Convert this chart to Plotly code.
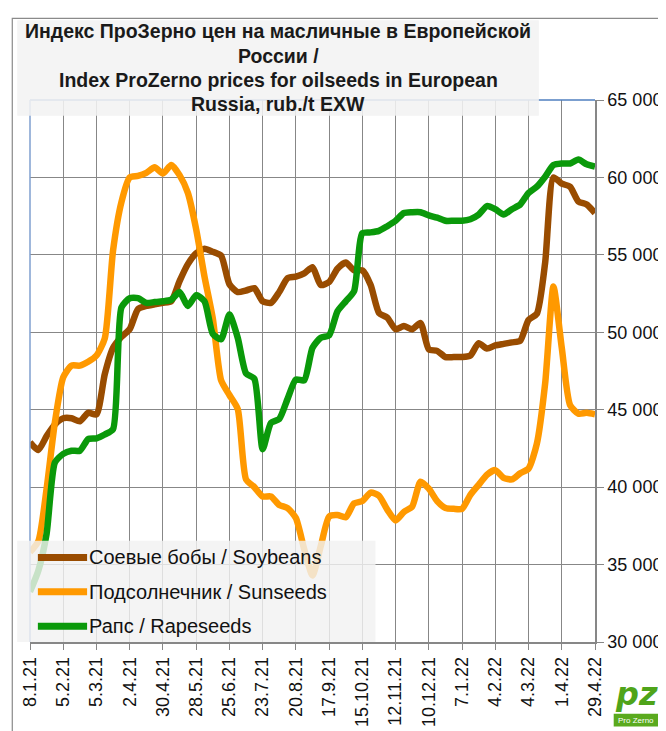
import pandas as pd
import plotly.graph_objects as go

# ---------------- data (weekly, 8.1.21 ... 29.4.22) ----------------
start_date = "2021-01-08"
n_weeks = 69

soybeans = [42900, 42400, 43300, 44050, 44450, 44450, 44250, 44800, 44700, 47300,
            49000, 49700, 50200, 51500, 51700, 51800, 51900, 52000, 53300, 54400,
            55100, 55400, 55200, 54950, 53100, 52600, 52700, 52850, 52000, 51900,
            52600, 53500, 53600, 53800, 54200, 53050, 53250, 54100, 54500, 54000,
            54000, 53050, 51250, 50950, 50200, 50400, 50200, 50600, 48900, 48800,
            48400, 48400, 48400, 48500, 49300, 48950, 49150, 49250, 49350, 49450,
            50800, 51200, 54500, 60000, 59600, 59400, 58450, 58250, 57700]

sunseeds = [35800, 36500, 39900, 44200, 47100, 47850, 47850, 48100, 48500, 49600,
            55300, 58400, 60000, 60100, 60300, 60650, 60250, 60800, 60150, 59000,
            56650, 53600, 50900, 46900, 45950, 45050, 40500, 40000, 39400, 39400,
            38850, 38650, 38000, 36000, 34300, 36200, 38100, 38200, 38050, 38950,
            39100, 39650, 39450, 38550, 37850, 38400, 38750, 40350, 39900, 39100,
            38650, 38600, 38600, 39500, 40150, 40800, 41100, 40600, 40500, 40900,
            41200, 42800, 46700, 52950, 49000, 45300, 44750, 44800, 44700]

rapeseeds = [33250, 34600, 37000, 41600, 42150, 42350, 42350, 43100, 43150, 43400,
             43750, 51600, 52200, 52200, 51900, 51950, 52000, 52100, 52600, 51700,
             52400, 52000, 49900, 49550, 51150, 49650, 47350, 47000, 42450, 44150,
             44400, 45700, 46950, 46900, 49000, 49650, 49800, 51350, 52000, 52650,
             56400, 56450, 56550, 56850, 57200, 57700, 57750, 57750, 57550, 57400,
             57200, 57200, 57200, 57300, 57600, 58150, 57950, 57600, 57950, 58250,
             59000, 59400, 60050, 60800, 60900, 60900, 61150, 60850, 60700]

series_names = ["Соевые бобы / Soybeans", "Подсолнечник / Sunseeds", "Рапс / Rapeseeds"]
series_colors = ["#994c00", "#ff9900", "#0a990a"]

x_tick_labels = ["8.1.21", "5.2.21", "5.3.21", "2.4.21", "30.4.21", "28.5.21", "25.6.21",
                 "23.7.21", "20.8.21", "17.9.21", "15.10.21", "12.11.21", "10.12.21",
                 "7.1.22", "4.2.22", "4.3.22", "1.4.22", "29.4.22"]
y_tick_values = [30000, 35000, 40000, 45000, 50000, 55000, 60000, 65000]
y_tick_labels = ["30 000", "35 000", "40 000", "45 000", "50 000", "55 000", "60 000", "65 000"]

title_lines = ["Индекс ПроЗерно цен на масличные в Европейской",
               "России /",
               "Index ProZerno prices for oilseeds in European",
               "Russia, rub./t EXW"]

# ---------------- figure ----------------
W, H = 666, 731
ML, MR, MT, MB = 21, 71, 92, 88
PW, PH = W - ML - MR, H - MT - MB


def px(x):
    return (x - ML) / PW


def py(y):
    return (H - MB - y) / PH


dates = pd.date_range(start_date, periods=n_weeks, freq="7D")

fig = go.Figure()
for vals, name, col in zip([soybeans, sunseeds, rapeseeds], series_names, series_colors):
    fig.add_trace(go.Scatter(x=dates, y=vals, name=name, mode="lines",
                             line=dict(color=col, width=6.5, shape="spline", smoothing=0.6),
                             showlegend=False))

grid = "#878787"
fig.update_layout(
    width=W, height=H,
    margin=dict(l=ML, r=MR, t=MT, b=MB, pad=0),
    paper_bgcolor="white", plot_bgcolor="white",
    font=dict(family="Liberation Sans, Arial, sans-serif", color="#000000"),
    xaxis=dict(type="date", range=[dates[0], dates[-1]],
               tickvals=list(dates[::4]), ticktext=x_tick_labels,
               tickangle=-90, tickfont=dict(size=18, color="#111111"),
               showgrid=True, gridcolor=grid, gridwidth=1,
               ticks="outside", ticklen=6, tickcolor=grid, tickwidth=1,
               showline=True, linecolor=grid, linewidth=1.5, zeroline=False),
    yaxis=dict(range=[30000, 65000], side="right",
               tickvals=y_tick_values, ticktext=y_tick_labels,
               tickfont=dict(size=18, color="#111111"),
               showgrid=True, gridcolor=grid, gridwidth=1,
               ticks="outside", ticklen=7, tickcolor=grid, tickwidth=1,
               showline=True, linecolor=grid, linewidth=1.5, zeroline=False),
)

shapes = []
# blue top and left frame of plot area
shapes.append(dict(type="line", xref="paper", yref="paper", x0=0, x1=1, y0=1, y1=1,
                   line=dict(color="#4f7fbf", width=1.5)))
shapes.append(dict(type="line", xref="paper", yref="paper", x0=0, x1=0, y0=0, y1=1,
                   line=dict(color="#7f9fcf", width=1.5)))
# outer chart border
shapes.append(dict(type="rect", xref="paper", yref="paper",
                   x0=px(3), x1=px(700), y0=py(9), y1=py(760),
                   line=dict(color="#8a8a8a", width=1.2), fillcolor="rgba(0,0,0,0)"))
# title box
shapes.append(dict(type="rect", xref="paper", yref="paper", layer="above",
                   x0=px(8), x1=px(538), y0=py(11), y1=py(108),
                   line=dict(width=0), fillcolor="rgba(242,242,242,0.88)"))
# legend box
shapes.append(dict(type="rect", xref="paper", yref="paper", layer="above",
                   x0=px(8), x1=px(372), y0=py(540), y1=py(643),
                   line=dict(width=0), fillcolor="rgba(242,242,242,0.82)"))
legend_rows = [557, 592, 627]
for yy, col in zip(legend_rows, series_colors):
    shapes.append(dict(type="line", xref="paper", yref="paper", layer="above",
                       x0=px(29), x1=px(79), y0=py(yy), y1=py(yy),
                       line=dict(color=col, width=7)))
# logo
shapes.append(dict(type="rect", xref="paper", yref="paper", layer="above",
                   x0=px(614), x1=px(660), y0=py(716), y1=py(729),
                   line=dict(width=0), fillcolor="#5aaa1e"))
fig.update_layout(shapes=shapes)

ann = []
title_y = [22, 47, 72, 96]
for t, yy in zip(title_lines, title_y):
    ann.append(dict(xref="paper", yref="paper", x=px(273), y=py(yy), text="<b>" + t + "</b>",
                    showarrow=False, xanchor="center", yanchor="middle",
                    font=dict(size=19.5, color="#1a1a1a")))
for yy, name in zip(legend_rows, series_names):
    ann.append(dict(xref="paper", yref="paper", x=px(80), y=py(yy), text=name,
                    showarrow=False, xanchor="left", yanchor="middle", borderpad=0,
                    font=dict(size=20, color="#111111")))
ann.append(dict(xref="paper", yref="paper", x=px(637), y=py(696), text="<b><i>pz</i></b>",
                showarrow=False, xanchor="center", yanchor="middle", borderpad=0,
                font=dict(size=32, color="#4fa41a", family="DejaVu Sans")))
ann.append(dict(xref="paper", yref="paper", x=px(637), y=py(723), text="Pro Zerno",
                showarrow=False, xanchor="center", yanchor="middle", borderpad=0,
                font=dict(size=8, color="white")))
fig.update_layout(annotations=ann)

fig.write_html("out.html")
